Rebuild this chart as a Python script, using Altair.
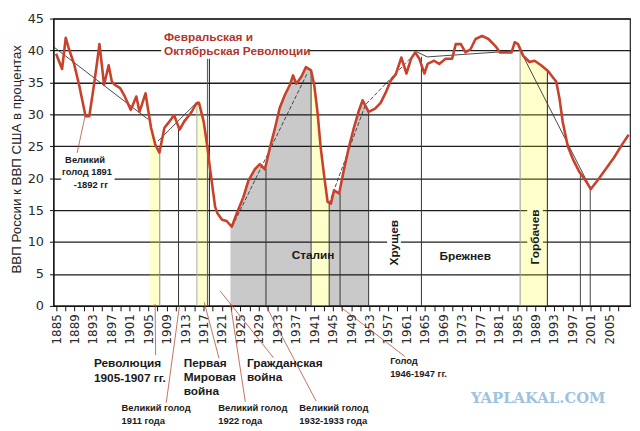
import altair as alt
import pandas as pd

# ---- main series: Russia GDP as % of US GDP ----
years = [1885.0, 1886.3, 1887.1, 1887.8, 1888.9, 1890.0, 1890.6, 1891.4, 1892.2, 1893.1,
         1893.9, 1894.4, 1894.9, 1895.4, 1896.4, 1897.1, 1897.8, 1898.9, 1899.9, 1901.2,
         1902.4, 1903.1, 1904.4, 1904.9, 1905.6, 1906.5, 1907.4, 1908.5, 1909.4, 1910.6,
         1911.1, 1911.8, 1912.8, 1913.9, 1914.4, 1915.4, 1916.0, 1917.0, 1917.8, 1918.3,
         1918.8, 1919.5, 1920.0, 1921.0, 1922.0, 1923.1, 1924.2, 1925.6, 1926.7, 1928.1,
         1929.2, 1930.3, 1931.4, 1932.5, 1933.5, 1934.6, 1935.7, 1936.4, 1937.1, 1938.2,
         1939.2, 1940.3, 1941.0, 1941.7, 1942.4, 1943.2, 1943.9, 1944.6, 1945.3, 1946.4,
         1947.4, 1948.5, 1949.6, 1950.6, 1951.5, 1952.8, 1954.2, 1955.4, 1956.5, 1957.6,
         1958.7, 1959.9, 1961.0, 1962.0, 1962.9, 1963.8, 1964.9, 1965.6, 1967.0, 1968.1,
         1969.5, 1970.9, 1971.7, 1972.8, 1973.8, 1974.9, 1976.0, 1977.4, 1978.8, 1980.3,
         1981.3, 1982.7, 1983.8, 1984.5, 1985.2, 1986.3, 1987.7, 1988.8, 1990.2, 1991.7,
         1993.5, 1994.2, 1994.9, 1996.0, 1997.1, 1998.5, 1999.9, 2001.0, 2002.4, 2004.2,
         2006.0, 2007.8, 2009.2]
gdp_share = [39.5, 37.1, 42.0, 40.2, 37.9, 34.6, 32.5, 29.7, 29.7, 34.0,
             38.2, 41.0, 37.9, 34.6, 37.7, 35.1, 34.6, 34.1, 32.8, 30.7,
             32.8, 30.4, 33.3, 31.0, 27.9, 25.3, 24.0, 27.9, 28.7, 29.9,
             28.9, 27.6, 28.9, 29.9, 30.4, 31.7, 31.8, 28.9, 25.0, 22.0,
             19.3, 15.5, 14.5, 13.5, 13.3, 12.4, 14.5, 17.0, 19.6, 21.4,
             22.2, 21.4, 24.8, 27.9, 31.0, 33.0, 34.6, 36.1, 34.8, 35.9,
             37.4, 36.9, 34.6, 30.4, 24.8, 20.1, 16.3, 16.0, 18.1, 17.6,
             21.2, 24.8, 27.9, 30.4, 32.2, 30.4, 30.9, 31.8, 33.4, 35.3,
             36.3, 38.9, 36.4, 38.7, 39.7, 38.7, 36.4, 37.9, 38.4, 37.9,
             38.7, 38.7, 41.0, 41.0, 39.7, 40.2, 41.8, 42.3, 41.8, 40.7,
             39.7, 39.7, 39.7, 41.3, 41.0, 39.2, 38.2, 38.4, 37.7, 36.8,
             35.1, 32.5, 28.8, 25.0, 23.0, 21.0, 19.6, 18.3, 19.6, 21.4,
             23.2, 25.3, 26.8]

# ---- shaded periods (edges and the curve height read at each edge) ----
band_start = [1905.35, 1915.54, 1940.32, 1985.66, 1922.82, 1944.24]
band_end = [1907.49, 1917.83, 1944.24, 1991.57, 1940.32, 1952.8]
band_kind = ["war", "war", "war", "war", "stalin", "stalin"]
band_top_start = [29.0, 31.7, 36.9, 40.3, 12.7, 16.1]
band_top_end = [24.3, 24.9, 16.1, 36.9, 36.9, 30.4]

# ---- vertical markers ----
vline_year = [1907.49, 1911.56, 1915.54, 1917.83, 1918.25, 1930.53, 1940.32, 1944.24,
              1946.6, 1952.8, 1964.25, 1985.66, 1991.57, 1998.73, 2000.87]
vline_top = [24.1, 27.8, 31.7, 38.7, 38.7, 21.5, 36.9, 16.0,
             17.6, 30.4, 39.0, 40.0, 36.8, 20.8, 18.3]
vline_shade = ["#888888", "#333333", "#aaaaaa", "#555555", "#111111", "#333333", "#444444", "#333333",
               "#333333", "#333333", "#333333", "#999999", "#222222", "#444444", "#444444"]

# ---- trend lines ----
trend_seg = ["a", "a", "b", "b", "c", "c", "d", "d", "d", "e", "e", "e", "e"]
trend_year = [1884.6, 1905.0, 1907.1, 1915.7, 1923.2, 1939.6, 1944.2, 1952.1, 1963.2,
              1963.2, 1965.5, 1985.7, 2001.0]
trend_value = [40.5, 29.2, 25.8, 32.0, 12.4, 36.6, 16.0, 31.5, 39.8,
               39.8, 39.0, 40.0, 18.3]
dashed_segs = ["c", "d"]

y_ticks = [0, 5, 10, 15, 20, 25, 30, 35, 40, 45]
x_ticks = list(range(1885, 2009, 2))
x_domain = [1884.42, 2009.5]

# ---- annotation texts ----
red_text = ["Февральская и", "Октябрьская Революции"]
red_x = [1908.4, 1908.4]
red_y = [42.1, 39.9]

big_text = ["Революция", "1905-1907 гг.", "Первая", "Мировая", "война", "Гражданская", "война"]
big_x = [1893.2, 1893.2, 1912.69, 1912.69, 1912.69, 1926.4, 1926.4]
big_y = [-8.97, -11.29, -8.97, -11.13, -13.30, -8.97, -11.13]

small_text = ["Великий голод", "1911 года", "Великий голод", "1922 года",
              "Великий голод", "1932-1933 года", "Голод", "1946-1947 гг."]
small_x = [1899.2, 1899.2, 1920.19, 1920.19, 1937.75, 1937.75, 1957.46, 1957.46]
small_y = [-15.93, -18.09, -15.93, -18.09, -15.93, -18.09, -8.66, -10.67]

famine_text = ["Великий", "голод 1891", "-1892 гг"]
famine_x = [1891.28, 1891.7, 1892.56]
famine_y = [22.9, 20.9, 19.0]

leader_text = ["Сталин", "Брежнев"]
leader_x = [1940.75, 1973.74]
leader_y = [7.89, 7.73]

vleader_text = ["Хрущев", "Горбачев"]
vleader_x = [1958.31, 1988.94]
vleader_y = [9.9, 10.8]

# label backgrounds (knock out gridlines)
bg_x1 = [1907.8, 1886.1, 1956.8, 1987.2]
bg_x2 = [1939.5, 1897.7, 1959.8, 1990.6]
bg_y1 = [38.8, 18.1, 6.34, 6.34]
bg_y2 = [43.5, 24.0, 13.45, 15.3]
bg_fill = ["white", "white", "white", "#FFFFCC"]

# pointer lines from labels
ptr_x1 = [1906.48, 1911.77, 1917.13, 1922.82, 1920.55, 1930.68, 1946.75, 1889.56]
ptr_y1 = [0.31, 0.05, 0.57, 0.31, 2.37, -0.2, -0.2, 23.97]
ptr_x2 = [1906.59, 1908.9, 1920.34, 1926.04, 1932.12, 1941.39, 1960.67, 1891.28]
ptr_y2 = [-7.73, -15.15, -8.2, -15.0, -8.09, -14.89, -7.93, 29.69]

# ---- build tables ----
curve = pd.DataFrame({"year": years, "share": gdp_share})

band_rows = []
for i, (s, e, k, ts, te) in enumerate(zip(band_start, band_end, band_kind, band_top_start, band_top_end)):
    band_rows.append({"band": f"b{i}", "kind": k, "year": s, "top": ts})
    for yv, sv in zip(years, gdp_share):
        if s < yv < e:
            band_rows.append({"band": f"b{i}", "kind": k, "year": yv, "top": sv})
    band_rows.append({"band": f"b{i}", "kind": k, "year": e, "top": te})
bands = pd.DataFrame(band_rows)
bands["lo"] = 0.0
bands["op"] = bands["kind"].map({"war": 0.2, "stalin": 0.21})

vrules = pd.DataFrame({
    "rx1": vline_year,
    "rx2": vline_year,
    "ry1": [0.0] * len(vline_year),
    "ry2": vline_top,
    "shade": vline_shade,
})
trend = pd.DataFrame({"seg": trend_seg, "year": trend_year, "value": trend_value})
trend_solid = trend[~trend["seg"].isin(dashed_segs)]
trend_dash = trend[trend["seg"].isin(dashed_segs)]
bgs = pd.DataFrame({"x1": bg_x1, "x2": bg_x2, "y1": bg_y1, "y2": bg_y2, "fill": bg_fill})
ptrs = pd.DataFrame({"x1": ptr_x1, "y1": ptr_y1, "x2": ptr_x2, "y2": ptr_y2})

XS = alt.Scale(domain=x_domain, nice=False, zero=False)
YS = alt.Scale(domain=[0, 45], nice=False, zero=False)

XAX = alt.Axis(values=x_ticks, format="d",
               labelExpr="datum.value % 4 == 1 ? datum.label : ''",
               labelAngle=-90, labelFont="DejaVu Sans", labelFontSize=12,
               labelColor="#2a2a2a", labelPadding=3, tickSize=5, tickColor="#111",
               domainColor="#111", domainWidth=1.3, grid=False,
               labelOverlap=False, labelFlush=False)
YAX = alt.Axis(values=y_ticks, grid=True, gridColor="#1e1e1e", gridWidth=1.3, gridOpacity=1,
               tickSize=4, tickColor="#111",
               domainColor="#111", domainWidth=1.3,
               labelFont="DejaVu Sans", labelFontSize=13, labelColor="#2a2a2a",
               labelPadding=6, labelFlush=False, labelOverlap=False,
               titleFont="Liberation Sans", titleFontSize=13.5,
               titleFontWeight="normal", titleColor="#222", titleAngle=-90,
               titleX=-33, titleY=142, titleAlign="center",
               titleBaseline="alphabetic")
YTITLE = "ВВП России к ВВП США в процентах"


def X(f):
    return alt.X(f, type="quantitative", scale=XS, axis=XAX, title=None)


def Y(f):
    return alt.Y(f, type="quantitative", scale=YS, axis=YAX, title=YTITLE)


band_layer = alt.Chart(bands).mark_area(strokeWidth=0, interpolate="linear").encode(
    x=X("year"),
    y=alt.Y("top", type="quantitative", scale=YS, axis=YAX, title=YTITLE, stack=None),
    y2="lo",
    detail="band:N",
    color=alt.Color("kind:N", scale=alt.Scale(domain=["war", "stalin"], range=["#FFFF00", "#000000"]), legend=None),
    opacity=alt.Opacity("op:Q", scale=None),
)

bg_layer = alt.Chart(bgs).mark_rect().encode(
    x=X("x1"), x2="x2", y=Y("y1"), y2="y2", color=alt.Color("fill:N", scale=None)
)

vline_layer = alt.Chart(vrules).mark_rule(strokeWidth=1).encode(
    x=X("rx1"), x2="rx2", y=Y("ry1"), y2="ry2",
    color=alt.Color("shade:N", scale=None),
)

trend_solid_layer = alt.Chart(trend_solid).mark_line(color="#333333", strokeWidth=0.9).encode(
    x=X("year"), y=Y("value"), detail="seg:N"
)
trend_dash_layer = alt.Chart(trend_dash).mark_line(color="#333333", strokeWidth=0.9, strokeDash=[4, 2]).encode(
    x=X("year"), y=Y("value"), detail="seg:N"
)

curve_layer = alt.Chart(curve).mark_line(color="#C8412B", strokeWidth=2.6, strokeJoin="round").encode(
    x=X("year"), y=Y("share")
)

ptr_layer = alt.Chart(ptrs).mark_rule(color="#B0503A", strokeWidth=0.8).encode(
    x=X("x1"), y=Y("y1"), x2="x2", y2="y2"
)


def text_layer(txt, xs, ys, size, color="#1a1a1a", align="left", angle=0, font="Liberation Sans"):
    df = pd.DataFrame({"t": txt, "x": xs, "y": ys})
    return alt.Chart(df).mark_text(
        fontSize=size, fontWeight="bold", font=font, color=color, align=align,
        baseline="middle", angle=angle
    ).encode(x=X("x"), y=Y("y"), text="t:N")


red_layer = text_layer(red_text, red_x, red_y, 12, color="#B5352A")
big_layer = text_layer(big_text, big_x, big_y, 12)
small_layer = text_layer(small_text, small_x, small_y, 9.5)
famine_layer = text_layer(famine_text, famine_x, famine_y, 9.5, align="center")
leader_layer = text_layer(leader_text, leader_x, leader_y, 12, align="center")
vleader_layer = text_layer(vleader_text, vleader_x, vleader_y, 12, align="center", angle=270)
wm_layer = text_layer(["YAPLAKAL.COM"], [1989.58], [-14.38], 15, color="#9DC3E0",
                      align="center", font="DejaVu Serif")

chart = alt.layer(
    band_layer, bg_layer, vline_layer,
    trend_solid_layer, trend_dash_layer, curve_layer,
    ptr_layer, red_layer, big_layer, small_layer, famine_layer,
    leader_layer, vleader_layer, wm_layer,
).properties(
    width=584, height=291,
    padding={"left": 46, "top": 8, "right": 2, "bottom": 125},
    autosize="none",
    background="white",
).configure_view(stroke="#222222", strokeWidth=1.2)

chart.save("out.html", embed_options={"renderer": "svg", "actions": False})
